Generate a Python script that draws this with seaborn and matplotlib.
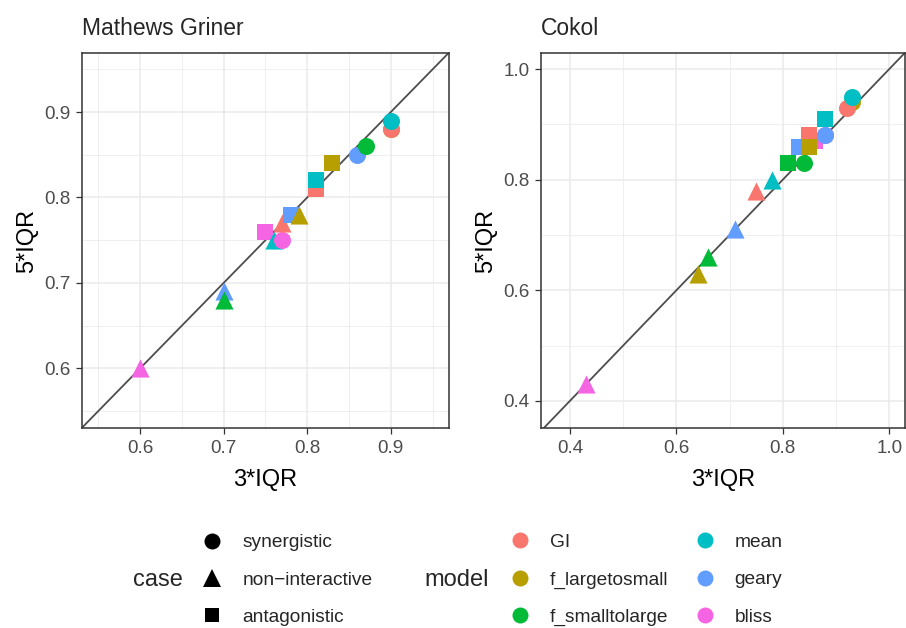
import matplotlib
matplotlib.use("Agg")
import matplotlib.pyplot as plt
from matplotlib.lines import Line2D
from matplotlib.ticker import MultipleLocator
import pandas as pd
import seaborn as sns

models = ["GI", "f_largetosmall", "f_smalltolarge", "mean", "geary", "bliss"]
cases = ["synergistic", "non\u2212interactive", "antagonistic"]
palette = ["#F8766D", "#B79F00", "#00BA38", "#00BFC4", "#619CFF", "#F564E3"]

SYN, NON, ANT = cases

# Mathews Griner: model, case, 3*IQR, 5*IQR (rows in drawing order)
mg_model = ["f_largetosmall", "f_smalltolarge", "bliss", "geary", "f_smalltolarge",
            "bliss", "mean", "bliss", "GI", "geary", "f_largetosmall", "GI", "mean",
            "f_largetosmall", "geary", "f_smalltolarge", "GI", "mean"]
mg_case = [SYN, ANT, NON, NON, NON, ANT, NON, SYN, NON, ANT, NON, ANT, ANT, ANT,
           SYN, SYN, SYN, SYN]
mg_x = [0.90, 0.81, 0.60, 0.70, 0.70, 0.75, 0.76, 0.77, 0.77, 0.78, 0.79, 0.81, 0.81,
        0.83, 0.86, 0.87, 0.90, 0.90]
mg_y = [0.88, 0.81, 0.60, 0.69, 0.68, 0.76, 0.75, 0.75, 0.77, 0.78, 0.78, 0.81, 0.82,
        0.84, 0.85, 0.86, 0.88, 0.89]

# Cokol
ck_model = ["bliss", "bliss", "f_largetosmall", "f_smalltolarge", "geary", "GI", "mean",
            "f_smalltolarge", "f_smalltolarge", "bliss", "geary", "GI",
            "f_largetosmall", "geary", "mean", "f_largetosmall", "GI", "mean"]
ck_case = [SYN, NON, NON, NON, NON, NON, NON, ANT, SYN, ANT, ANT, ANT, ANT, SYN,
           ANT, SYN, SYN, SYN]
ck_x = [0.88, 0.43, 0.64, 0.66, 0.71, 0.75, 0.78, 0.81, 0.84, 0.86, 0.83, 0.85, 0.85,
        0.88, 0.88, 0.93, 0.92, 0.93]
ck_y = [0.88, 0.43, 0.63, 0.66, 0.71, 0.78, 0.80, 0.83, 0.83, 0.87, 0.86, 0.88, 0.86,
        0.88, 0.91, 0.94, 0.93, 0.95]

mg = pd.DataFrame({"model": mg_model, "case": mg_case, "x": mg_x, "y": mg_y})
ck = pd.DataFrame({"model": ck_model, "case": ck_case, "x": ck_x, "y": ck_y})

sns.set_theme(style="white")
plt.rcParams["font.family"] = ["Liberation Sans", "DejaVu Sans"]

fig = plt.figure(figsize=(9.06, 6.28), dpi=100)
ax1 = fig.add_axes([0.0905, 0.3185, 0.405, 0.597])
ax2 = fig.add_axes([0.5971, 0.3185, 0.402, 0.597])

marker_map = {SYN: "o", NON: "^", ANT: "s"}
size_map = {SYN: 150, NON: 170, ANT: 140}
color_map = dict(zip(models, palette))

panels = [
    (ax1, mg, "Mathews Griner", (0.5305, 0.9695), (0.5302, 0.969), 0.1,
     [0.6, 0.7, 0.8, 0.9]),
    (ax2, ck, "Cokol", (0.3456, 1.03), (0.351, 1.029), 0.2,
     [0.4, 0.6, 0.8, 1.0]),
]

for ax, df, title, xl, yl, step, ticks in panels:
    for i in df.index:
        row = df.loc[[i]]
        sns.scatterplot(data=row, x="x", y="y", ax=ax,
                        color=color_map[df.at[i, "model"]],
                        marker=marker_map[df.at[i, "case"]],
                        s=size_map[df.at[i, "case"]],
                        linewidth=0, legend=False, zorder=3)
    ax.axline((0, 0), slope=1, color="#4D4D4D", lw=1.3, zorder=2)
    ax.set_xlim(*xl)
    ax.set_ylim(*yl)
    ax.set_xticks(ticks)
    ax.set_yticks(ticks)
    ax.set_xticklabels([f"{t:.1f}" for t in ticks])
    ax.set_yticklabels([f"{t:.1f}" for t in ticks])
    ax.xaxis.set_minor_locator(MultipleLocator(step / 2))
    ax.yaxis.set_minor_locator(MultipleLocator(step / 2))
    ax.grid(which="major", color="#EBEBEB", lw=1.1, zorder=0)
    ax.grid(which="minor", color="#EBEBEB", lw=0.55, zorder=0)
    ax.set_axisbelow(True)
    for sp in ax.spines.values():
        sp.set_color("#333333")
        sp.set_linewidth(1.1)
    ax.tick_params(which="major", length=4, width=0.9, color="#333333",
                   labelsize=13.6, labelcolor="#4D4D4D", bottom=True, left=True)
    ax.tick_params(axis="x", which="major", pad=5)
    ax.tick_params(axis="y", which="major", pad=4)
    ax.tick_params(which="minor", length=0)
    ax.set_xlabel("3*IQR", fontsize=17, color="black", labelpad=8)
    ax.set_ylabel("5*IQR", fontsize=17, color="black", labelpad=4.5)
    ax.set_title(title, loc="left", fontsize=16.5, pad=13)

# legends
legend_y = 0.0765
case_handles = [Line2D([], [], ls="", marker=marker_map[c], color="black",
                       markersize=ms, markeredgewidth=0)
                for c, ms in zip(cases, [11.5, 12.5, 10.5])]
leg_fs = 13.8
leg1 = fig.legend(case_handles, cases, loc="center left",
                  bbox_to_anchor=(0.202, legend_y), frameon=False, fontsize=leg_fs,
                  handletextpad=1.0, labelspacing=1.04, handlelength=1.2)
fig.text(0.147, legend_y, "case", fontsize=17, ha="left", va="center")

model_handles = [Line2D([], [], ls="", marker="o", color=c, markersize=11.5,
                        markeredgewidth=0) for c in palette]
leg2 = fig.legend(model_handles, models, loc="center left", ncol=2,
                  bbox_to_anchor=(0.542, legend_y), frameon=False, fontsize=leg_fs,
                  handletextpad=0.95, labelspacing=1.04, handlelength=1.2,
                  columnspacing=1.32)
fig.text(0.469, legend_y, "model", fontsize=17, ha="left", va="center")

fig.savefig("out.png", dpi=100, facecolor="white")
